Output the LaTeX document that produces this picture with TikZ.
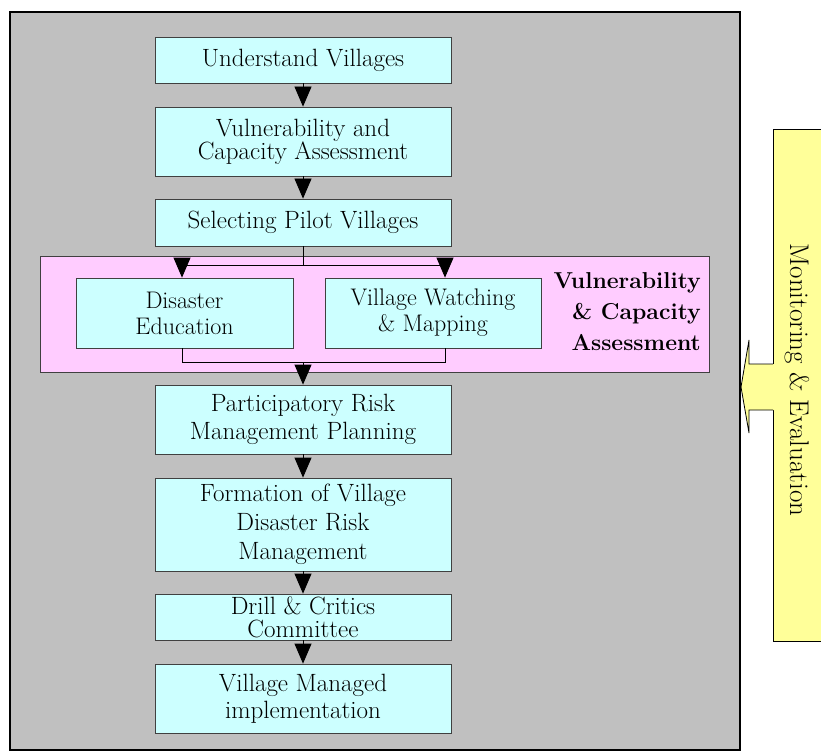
\documentclass[tikz,border=0pt]{standalone}
\usepackage{fontspec}
\usepackage{tikz}
\usetikzlibrary{arrows.meta}

\definecolor{bggray}{HTML}{C0C0C0}
\definecolor{stepcyan}{HTML}{CCFFFF}
\definecolor{grouppink}{HTML}{FFCCFF}
\definecolor{monyellow}{HTML}{FFFF99}
\definecolor{edgegray}{HTML}{404040}

\begin{document}
\begin{tikzpicture}[x=1pt, y=-1pt,
    stepbox/.style={draw=edgegray, line width=0.8pt, fill=stepcyan, align=center,
        inner sep=0pt, minimum width=296pt, font=\fontsize{25}{23}\selectfont},
    flow/.style={line width=0.8pt, -{Triangle[width=17pt, length=20pt]}},
    link/.style={line width=0.8pt}]

    \useasboundingbox (0, 0) rectangle (821, 751);

    % backgrounds
    \draw [fill=bggray, line width=1.6pt] (10, 12) rectangle (740, 750);
    \draw [fill=monyellow, line width=0.8pt] (773, 129) rectangle (830, 641);
    \fill [monyellow] (774, 364) -- (749, 364) -- (749, 340) -- (741, 387)
        -- (749, 433) -- (749, 410) -- (774, 410) -- cycle;
    \draw [line width=0.8pt] (773, 364) -- (749, 364) -- (749, 340) -- (741, 387)
        -- (749, 433) -- (749, 410) -- (773, 410);
    \draw [fill=grouppink, draw=edgegray, line width=0.8pt] (40, 256) rectangle (709, 372);

    \node [rotate=-90, inner sep=0pt, font=\fontsize{27}{27}\selectfont] (mon) at (797, 380) {Monitoring \& Evaluation};

    % steps
    \node [stepbox, minimum height=46pt] (und) at (303, 60) {Understand Villages};
    \node [stepbox, minimum height=69pt] (vca) at (303, 141.5) {Vulnerability and\\Capacity Assessment};
    \node [stepbox, minimum height=47pt] (spv) at (303, 222.5) {Selecting Pilot Villages};
    \node [stepbox, minimum width=217pt, minimum height=70pt, font=\fontsize{24}{26}\selectfont] (de) at (184.5, 313) {Disaster\\Education};
    \node [stepbox, minimum width=216pt, minimum height=70pt, font=\fontsize{24}{26}\selectfont] (vwm) at (433, 313) {Village Watching\\\& Mapping};
    \node [anchor=north east, align=right, inner sep=0pt, font=\bfseries\fontsize{23}{31}\selectfont] (vcalabel) at (701, 272) {Vulnerability\\\& Capacity\\Assessment};
    \node [stepbox, minimum height=69pt, font=\fontsize{25}{28}\selectfont] (prm) at (303, 419.5) {Participatory Risk\\Management Planning};
    \node [stepbox, minimum height=93pt, font=\fontsize{25}{29}\selectfont] (form) at (303, 524.5) {Formation of Village\\Disaster Risk\\Management};
    \node [stepbox, minimum height=46pt] (drill) at (303, 617) {Drill \& Critics\\Committee};
    \node [stepbox, minimum height=69pt, font=\fontsize{25}{27}\selectfont] (vmi) at (303, 698.5) {Village Managed\\implementation};

    \coordinate (split) at (303, 265);
    \coordinate (splitL) at (182, 265);
    \coordinate (splitR) at (445, 265);
    \coordinate (join) at (303, 362);
    \coordinate (joinL) at (182, 362);
    \coordinate (joinR) at (445, 362);

    % arrows
    \draw [flow] (und) to (vca);
    \draw [flow] (vca) to (spv);
    \draw [link] (spv) to (split);
    \draw [link] (splitL) to (splitR);
    \draw [flow] (splitL) to (splitL |- de.north);
    \draw [flow] (splitR) to (splitR |- vwm.north);
    \draw [link] (de.south -| joinL) -- (joinL) -- (joinR) -- (vwm.south -| joinR);
    \draw [flow] (join) to (prm);
    \draw [flow] (prm) to (form);
    \draw [flow] (form) to (drill);
    \draw [flow] (drill) to (vmi);

\end{tikzpicture}
\end{document}
